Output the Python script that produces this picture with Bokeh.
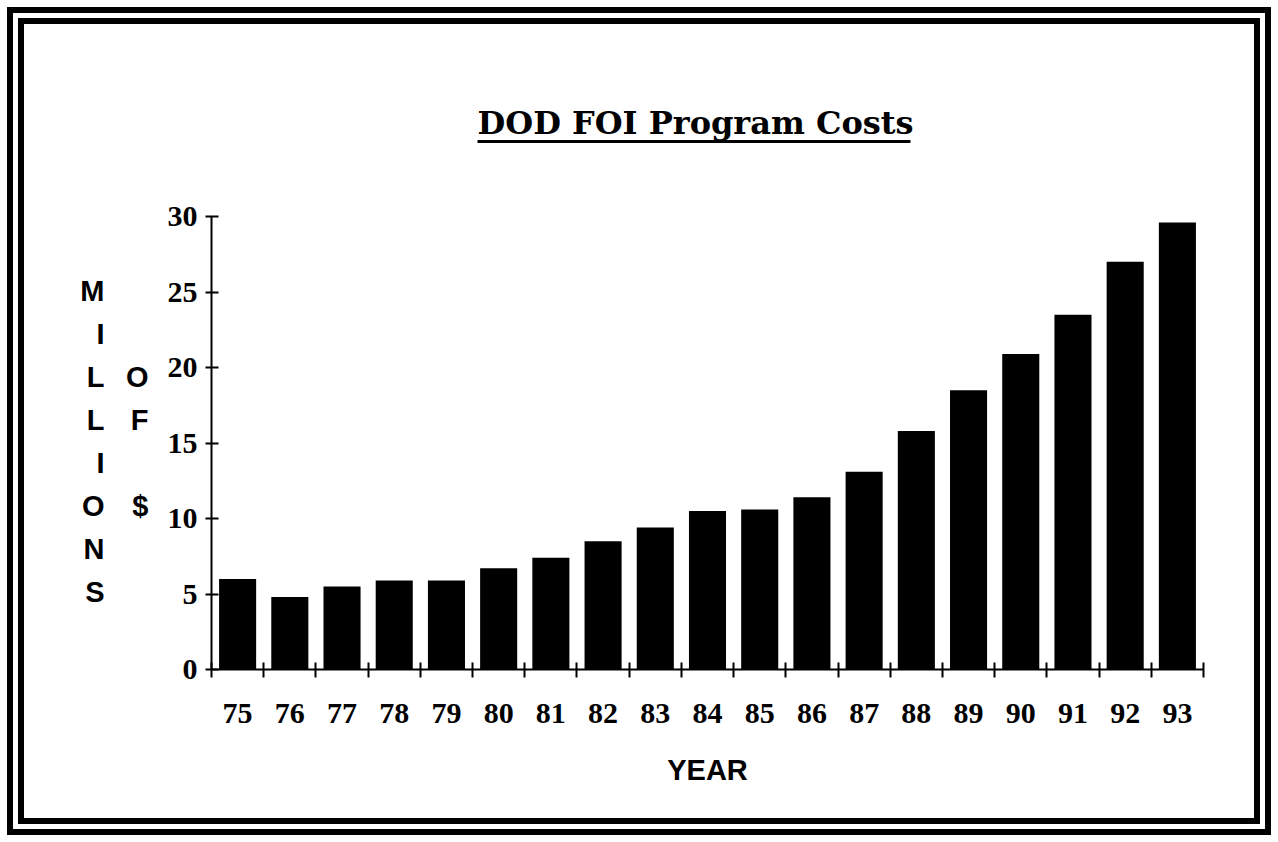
import numpy as np
from bokeh.plotting import figure
from bokeh.models import Range1d, FixedTicker, LinearAxis
from bokeh.embed import file_html
from bokeh.resources import INLINE

# ---- data ----
years = ["75", "76", "77", "78", "79", "80", "81", "82", "83", "84",
         "85", "86", "87", "88", "89", "90", "91", "92", "93"]
costs = [6.0, 4.8, 5.5, 5.9, 5.9, 6.7, 7.4, 8.5, 9.4, 10.5,
         10.6, 11.4, 13.1, 15.8, 18.5, 20.9, 23.5, 27.0, 29.6]
y_ticks = [0, 5, 10, 15, 20, 25, 30]
title_text = "DOD FOI Program Costs"
ylabel_left = "MILLIONS"
ylabel_right = {2: "O", 3: "F", 5: "$"}   # rows beside MILLIONS
xlabel = "YEAR"

n = len(years)
centers = list(np.arange(n) + 0.5)
bounds = list(range(n + 1))

M = 24  # page margin kept around the figure for the double border
W, H = 1278 - 2 * M, 842 - 2 * M
p = figure(width=W, height=H, output_backend="svg", toolbar_location=None,
           x_range=Range1d(0, n), y_range=Range1d(0, 34.967),
           x_axis_type=None, y_axis_type=None,
           min_border_left=187, min_border_right=51,
           min_border_top=117, min_border_bottom=149)
p.extra_y_ranges = {"rows": Range1d(start=8.785, end=-3.454)}
p.outline_line_color = None
p.grid.visible = False
p.background_fill_color = "white"
p.border_fill_color = "white"
p.styles = {"margin": f"{M}px", "outline": "17px double black",
            "outline-offset": "0px"}

p.vbar(x=centers, top=costs, bottom=0, width=0.71,
       fill_color="black", line_color=None)

num_font = "Liberation Serif"
sans_font = "Liberation Sans"

# title with underline (underline drawn by a bounded top axis line)
p.title.text = title_text
p.title.align = "left"
p.title.offset = 266
p.title.standoff = 0
p.title.text_font = "DejaVu Serif"
p.title.text_font_style = "bold"
p.title.text_font_size = "32px"
p.title.text_color = "black"

uax = LinearAxis(ticker=FixedTicker(ticks=[], minor_ticks=[]), bounds=(5.095, 13.39))
uax.axis_line_width = 3
uax.axis_line_color = "black"
uax.major_tick_in = 0
uax.major_tick_out = 0
uax.major_label_standoff = 0
p.add_layout(uax, "above")

# y axis
yax = LinearAxis(ticker=FixedTicker(ticks=y_ticks, minor_ticks=[]), bounds=(0, 30))
yax.axis_line_width = 2
yax.axis_line_color = "black"
yax.major_tick_in = 7
yax.major_tick_out = 6
yax.major_tick_line_width = 2
yax.minor_tick_line_color = None
yax.major_label_standoff = 8
yax.major_label_text_font = num_font
yax.major_label_text_font_style = "bold"
yax.major_label_text_font_size = "30px"
yax.major_label_text_color = "black"
p.add_layout(yax, "left")

def letter_axis(labels, standoff):
    ax = LinearAxis(y_range_name="rows",
                    ticker=FixedTicker(ticks=list(labels.keys()), minor_ticks=[]))
    ax.major_label_overrides = labels
    ax.axis_line_color = None
    ax.major_tick_line_color = None
    ax.minor_tick_line_color = None
    ax.major_tick_in = 0
    ax.major_tick_out = 0
    ax.major_label_standoff = standoff
    ax.major_label_text_font = sans_font
    ax.major_label_text_font_style = "bold"
    ax.major_label_text_font_size = "29px"
    ax.major_label_text_color = "black"
    return ax

p.add_layout(letter_axis(ylabel_right, 16), "left")
p.add_layout(letter_axis({i: ch for i, ch in enumerate(ylabel_left)}, 18), "left")

# x axis
xax = LinearAxis(ticker=FixedTicker(ticks=centers, minor_ticks=bounds))
xax.major_label_overrides = {c: y for c, y in zip(centers, years)}
xax.axis_line_width = 2
xax.axis_line_color = "black"
xax.major_tick_in = 0
xax.major_tick_out = 0
xax.major_tick_line_color = None
xax.minor_tick_in = 7
xax.minor_tick_out = 8
xax.minor_tick_line_width = 2
xax.minor_tick_line_color = "black"
xax.major_label_standoff = 26
xax.major_label_text_font = num_font
xax.major_label_text_font_style = "bold"
xax.major_label_text_font_size = "30px"
xax.major_label_text_color = "black"
xax.axis_label = xlabel
xax.axis_label_text_font = sans_font
xax.axis_label_text_font_style = "bold"
xax.axis_label_text_font_size = "29px"
xax.axis_label_text_color = "black"
xax.axis_label_standoff = 28
p.add_layout(xax, "below")

open("out.html", "w").write(file_html(p, INLINE))
